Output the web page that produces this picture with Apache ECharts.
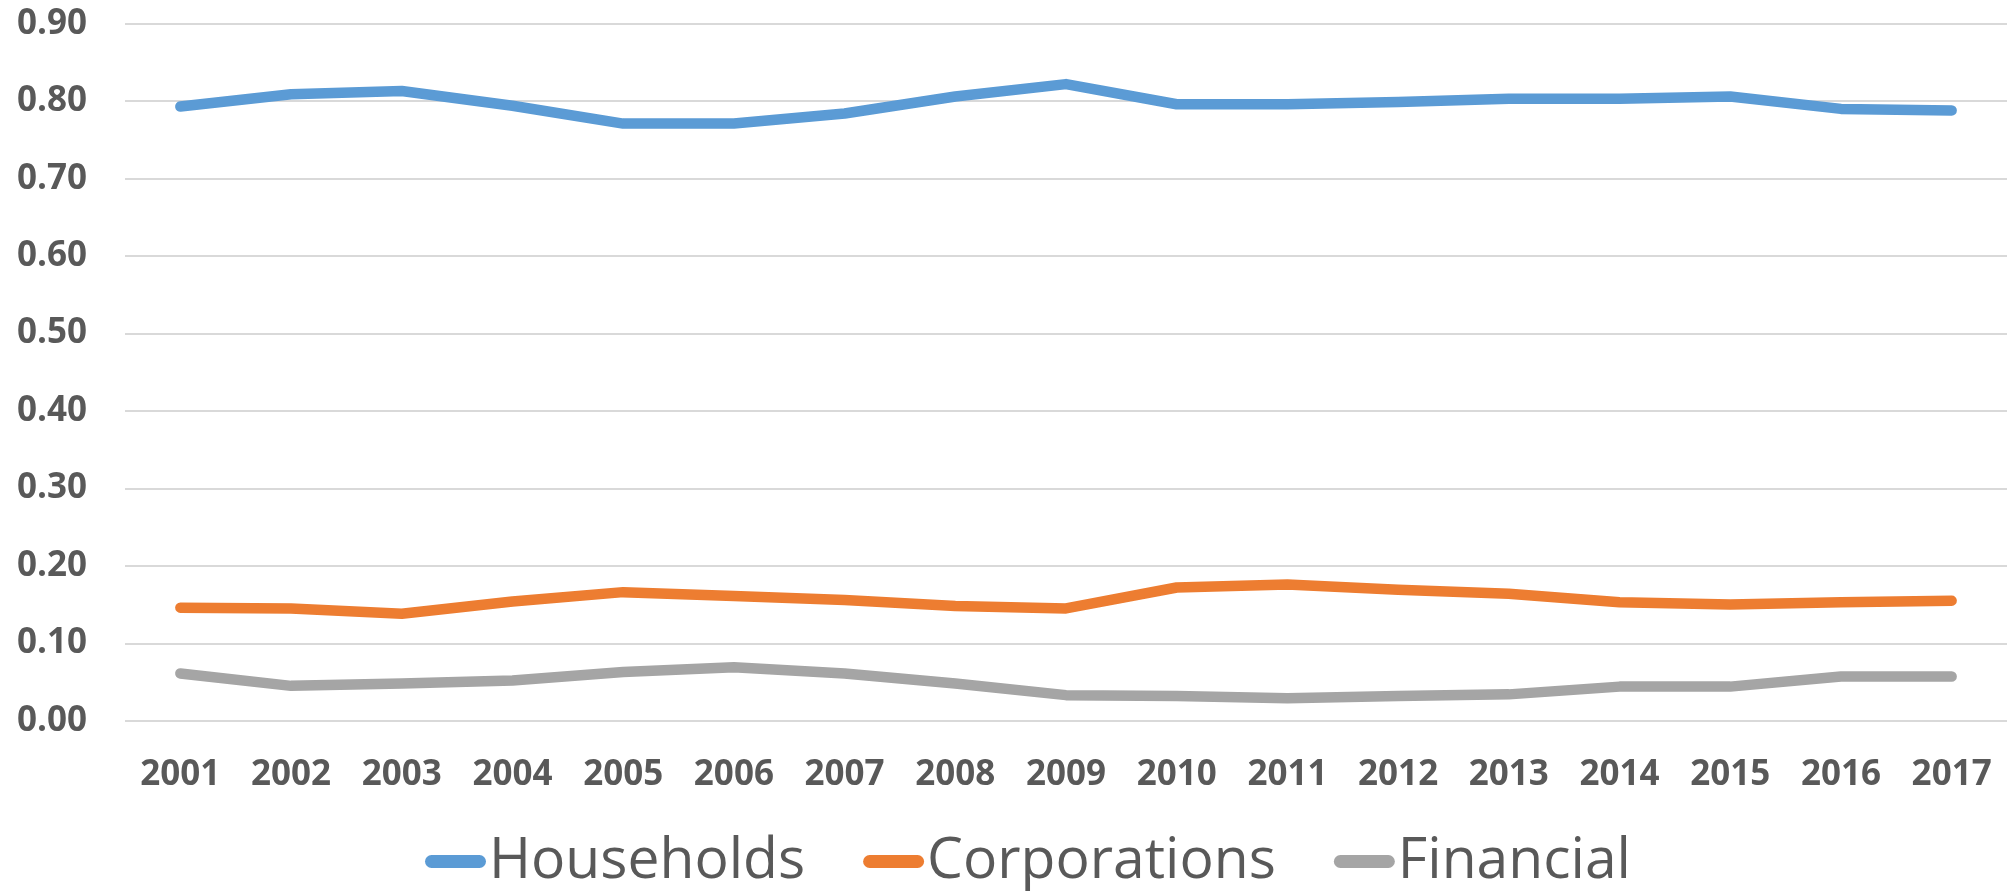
<!DOCTYPE html>
<html>
<head>
<meta charset="utf-8">
<script src="https://cdn.jsdelivr.net/npm/echarts@6/dist/echarts.min.js"></script>
<style>
html,body{margin:0;padding:0;background:#fff;}
#chart{width:2013px;height:891px;}
</style>
</head>
<body>
<div id="chart"></div>
<script>
const years = ['2001','2002','2003','2004','2005','2006','2007','2008','2009','2010','2011','2012','2013','2014','2015','2016','2017'];
const households = [0.793,0.809,0.813,0.794,0.771,0.771,0.784,0.806,0.822,0.796,0.796,0.799,0.803,0.803,0.806,0.790,0.788];
const corporations = [0.146,0.145,0.138,0.154,0.166,0.161,0.156,0.148,0.145,0.172,0.176,0.169,0.164,0.153,0.150,0.153,0.155];
const financial = [0.061,0.045,0.048,0.052,0.063,0.069,0.061,0.048,0.033,0.032,0.029,0.032,0.034,0.044,0.044,0.057,0.057];
const seriesNames = ['Households','Corporations','Financial'];
const colors = ['#5B9BD5','#ED7D31','#A5A5A5'];

const chart = echarts.init(document.getElementById('chart'), null, {renderer:'canvas'});
const capsule = 'path://M6.5,0 L54.5,0 A6.5,6.5 0 0 1 54.5,13 L6.5,13 A6.5,6.5 0 0 1 6.5,0 Z';
const mk = (name, data, color) => ({
  name, type:'line', data, symbol:'none', smooth:false,
  lineStyle:{color, width:10.5, cap:'round', join:'round'},
  itemStyle:{color},
  emphasis:{disabled:true}
});
chart.setOption({
  animation:false,
  color: colors,
  grid:{left:125, right:6, top:23.7, bottom:170.3, containLabel:false},
  xAxis:{
    type:'category', data:years, boundaryGap:true,
    axisLine:{show:false}, axisTick:{show:false},
    axisLabel:{color:'#595959', fontFamily:'Open Sans', fontWeight:'bold', fontSize:35, margin:37}
  },
  yAxis:{
    type:'value', min:0, max:0.9, interval:0.1,
    axisLine:{show:false}, axisTick:{show:false},
    splitLine:{lineStyle:{color:'#D9D9D9', width:2}},
    axisLabel:{color:'#595959', fontFamily:'Open Sans', fontWeight:'bold', fontSize:35, margin:38,
      formatter: v => v.toFixed(2)}
  },
  legend:{
    data: seriesNames, top: 828, left: 420,
    icon: capsule, itemWidth:61, itemHeight:13, itemGap:58,
    textStyle:{color:'#595959', fontFamily:'Open Sans', fontSize:57, padding:[0,0,0,-2]}
  },
  series:[
    mk(seriesNames[0], households, colors[0]),
    mk(seriesNames[1], corporations, colors[1]),
    mk(seriesNames[2], financial, colors[2])
  ]
});
</script>
</body>
</html>
